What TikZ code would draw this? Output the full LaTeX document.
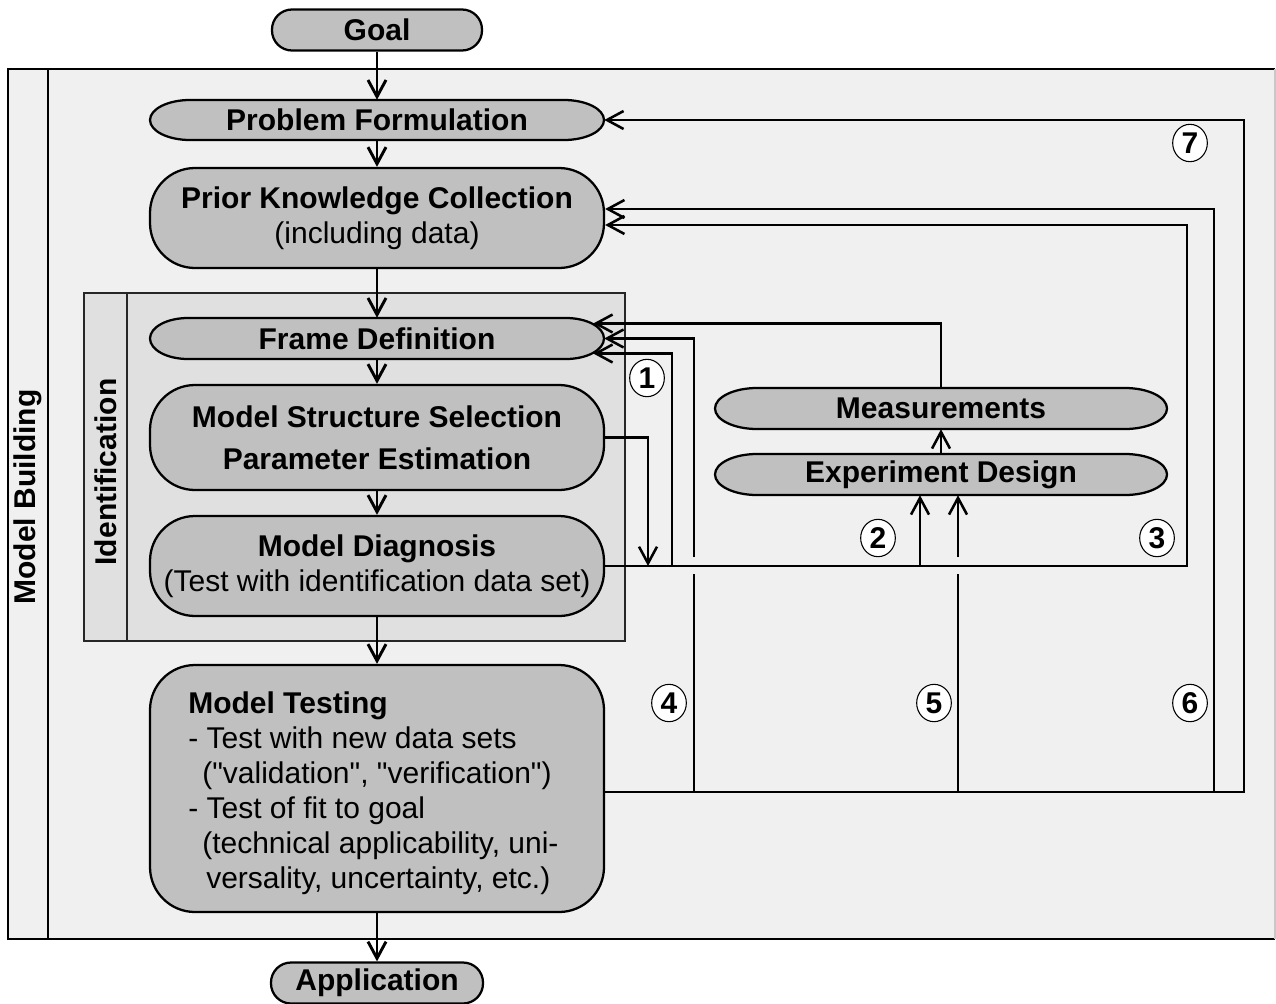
\documentclass[tikz,border=0pt]{standalone}
\usepackage{fontspec}
\setmainfont{Liberation Sans}[Ligatures=TeXOff]
\usetikzlibrary{arrows.meta,calc,shapes.geometric}

\definecolor{shapegray}{HTML}{C0C0C0}
\definecolor{outerbg}{HTML}{F0F0F0}
\definecolor{identbg}{HTML}{E0E0E0}
\definecolor{rimgray}{HTML}{C8C8C8}

\newcommand\dfont{\fontsize{22.5pt}{26.25pt}\selectfont}

% elliptical-capped box: cx cy halfwidth halfheight capradius
\newcommand\ecapshape[5]{%
  \pgfmathsetmacro\capL{#1-#3}\pgfmathsetmacro\capR{#1+#3}%
  \pgfmathsetmacro\capT{#2-#4}\pgfmathsetmacro\capB{#2+#4}%
  \pgfmathsetmacro\capLi{#1-#3+#5}\pgfmathsetmacro\capRi{#1+#3-#5}%
  \pgfmathsetmacro\capkx{0.5523*#5}\pgfmathsetmacro\capky{0.5523*#4}%
  \filldraw[shapeline] (\capLi,\capT) -- (\capRi,\capT)
    .. controls ({\capRi+\capkx},\capT) and (\capR,{#2-\capky}) .. (\capR,#2)
    .. controls (\capR,{#2+\capky}) and ({\capRi+\capkx},\capB) .. (\capRi,\capB)
    -- (\capLi,\capB)
    .. controls ({\capLi-\capkx},\capB) and (\capL,{#2+\capky}) .. (\capL,#2)
    .. controls (\capL,{#2-\capky}) and ({\capLi-\capkx},\capT) .. (\capLi,\capT) -- cycle;}

\tikzset{
  shapeline/.style={draw=black, line width=1.7pt, fill=shapegray},
  roundbox/.style={shapeline, rounded corners=33.75pt, minimum width=340.5pt,
    inner sep=0pt, font=\dfont, align=center},
  stadium/.style={shapeline, rounded corners=15pt, inner sep=0pt,
    font=\dfont\bfseries, minimum height=30.75pt},
  captext/.style={inner sep=0pt, font=\dfont\bfseries},
  tipstyle/.style={-{Straight Barb[length=12.5pt,width=13.5pt]}},
  flow/.style={line width=2.2pt, tipstyle},
  arr/.style={line width=1.9pt, tipstyle},
  conn/.style={line width=1.9pt},
  numc/.style={ellipse, draw=black, line width=0.8pt, fill=white,
    minimum width=26pt, minimum height=28pt, inner sep=0pt, font=\dfont\bfseries},
  sidelabel/.style={rotate=90, inner sep=0pt, font=\dfont\bfseries}
}

\begin{document}
\begin{tikzpicture}[x=0.75pt,y=-0.75pt]
\useasboundingbox (0,0) rectangle (1276,1003);
\fill[white] (0,0) rectangle (1276,1003);

% Model Building frame
\fill[outerbg] (8,69) rectangle (1275,939);
\draw[line width=1.3pt] (1275,69) -- (8,69) -- (8,939) -- (1275,939);
\draw[rimgray, line width=1pt] (1275,69) -- (1275,939);
\draw[line width=1.7pt] (48,69) -- (48,939);
\node[sidelabel] (mb) at (28,497) {Model Building};

% Identification frame
\filldraw[fill=identbg, draw=black!85, line width=1.1pt] (84,293) rectangle (625,641);
\draw[black!85, line width=1.1pt] (127,293) -- (127,641);
\node[sidelabel] (idl) at (105.5,472) {Identification};

% main column
\node[stadium, minimum width=157.5pt] (goal) at (377,30) {\raisebox{-2pt}{Goal}};

\ecapshape{377}{120}{227}{20}{40}
\node[captext, minimum width=340.5pt, minimum height=30pt] (pf) at (377,120) {\raisebox{-1.5pt}{Problem Formulation}};

\node[roundbox, minimum height=75pt] (pk) at (377,218)
  {\bfseries Prior Knowledge Collection\\(including data)};

\ecapshape{377}{338.5}{227}{20.5}{38}
\node[captext, minimum width=340.5pt, minimum height=30.75pt] (fd) at (377,338.5) {\raisebox{-1pt}{Frame Definition}};

\node[roundbox, minimum height=78.75pt, font=\dfont\bfseries] (mss) at (377,437.5)
  {Model Structure Selection\\[5.25pt]Parameter Estimation};

\node[roundbox, minimum height=75pt] (md) at (377,566)
  {\bfseries Model Diagnosis\\(Test with identification data set)};

\node[roundbox, minimum height=185.25pt] (mt) at (377,788.5) {};
\node[anchor=west, align=left, inner sep=0pt, font=\dfont] (mtt) at (188,793)
  {\bfseries Model Testing\\
   - Test with new data sets\\
   \hspace*{10.5pt}("validation", "verification")\\
   - Test of fit to goal\\
   \hspace*{10.5pt}(technical applicability, uni-\\
   \hspace*{13.5pt}versality, uncertainty, etc.)};

\node[stadium, minimum width=159pt] (app) at (377,983) {\raisebox{-2pt}{Application}};

% right column
\ecapshape{941}{408.5}{226}{20.5}{42}
\node[captext, minimum width=339pt, minimum height=30.75pt] (meas) at (941,408.5) {\raisebox{-1pt}{Measurements}};
\ecapshape{941}{474.5}{226}{20.5}{42}
\node[captext, minimum width=339pt, minimum height=30.75pt] (ed) at (941,474.5) {\raisebox{-1pt}{Experiment Design}};

% main flow arrows
\draw[flow] (goal.south) -- (pf.north);
\draw[flow] (pf.south) -- (pk.north);
\draw[flow] (pk.south) -- (fd.north);
\draw[flow] (fd.south) -- (mss.north);
\draw[flow] (mss.south) -- (md.north);
\draw[flow] (md.south) -- (mt.north);
\draw[flow] (mt.south) -- (app.north);
\draw[arr] (ed.north) -- (meas.south);

% junction coordinates
\coordinate (c1) at (672,566);
\coordinate (c2) at (920,566);
\coordinate (c3) at (1187,566);
\coordinate (c4) at (694,792);
\coordinate (c5) at (958,792);
\coordinate (c6) at (1214,792);
\coordinate (c7) at (1244,792);
\coordinate (c8) at (648,566);
\coordinate (g4a) at (694,574);
\coordinate (g4b) at (694,557);
\coordinate (g5a) at (958,574);
\coordinate (g5b) at (958,557);

% feedback loops
\draw[arr] (mt.east |- c7) -- (c7) |- (pf.east);
\draw[arr] (c6) |- ($(pk.east)+(0,-9)$);
\draw[arr] (md.east |- c3) -- (c3) |- ($(pk.east)+(0,7)$);
\draw[arr] (c1) |- ($(fd.east)+(-11,15)$);
\draw[conn] (c4) -- (g4a);
\draw[arr] (g4b) |- (fd.east);
\draw[arr] (meas.north) |- ($(fd.east)+(-11,-15)$);
\draw[arr] (c2) -- (c2 |- ed.south);
\draw[conn] (c5) -- (g5a);
\draw[arr] (g5b) -- (g5b |- ed.south);
\draw[arr] (mss.east) -| (c8);

% numbered labels
\node[numc] (n1) at (647,378) {1};
\node[numc] (n2) at (878,538) {2};
\node[numc] (n3) at (1157,538) {3};
\node[numc] (n4) at (669,703) {4};
\node[numc] (n5) at (934,703) {5};
\node[numc] (n6) at (1190,703) {6};
\node[numc] (n7) at (1190,143) {7};
\end{tikzpicture}
\end{document}
